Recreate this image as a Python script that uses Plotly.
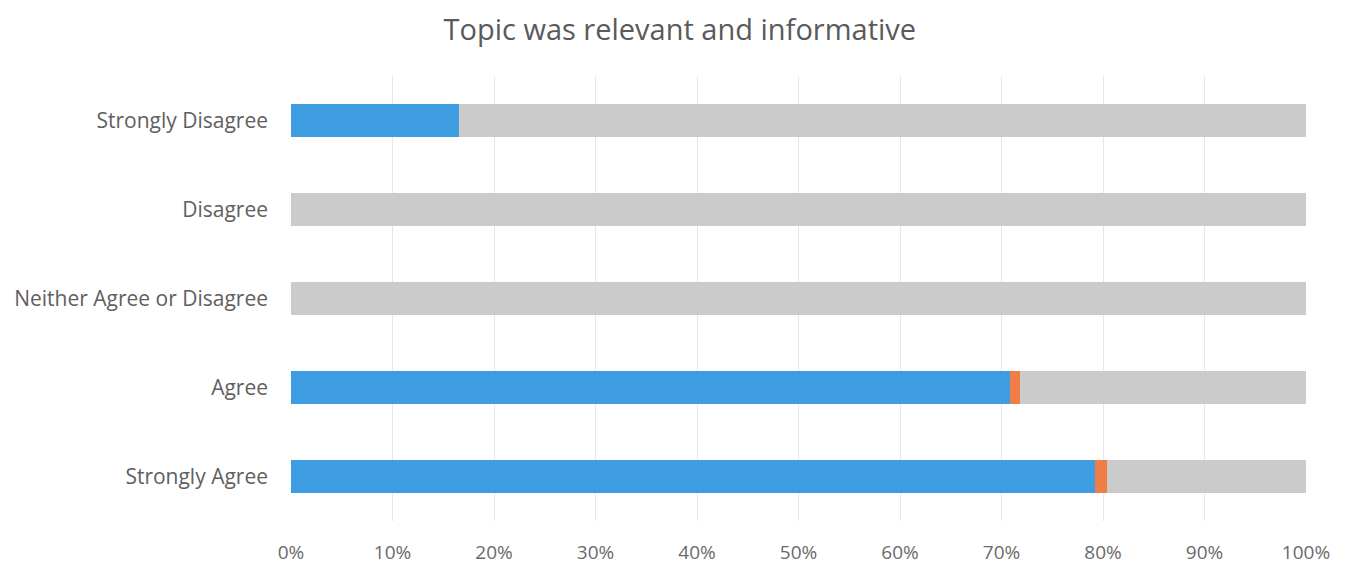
import plotly.graph_objects as go

categories = ["Strongly Disagree", "Disagree", "Neither Agree or Disagree", "Agree", "Strongly Agree"]
series_names = ["Yes", "Partly", "No"]
blue_vals = [16.6, 0, 0, 70.8, 79.2]
orange_vals = [0, 0, 0, 1.0, 1.2]
gray_vals = [100 - b - o for b, o in zip(blue_vals, orange_vals)]
x_ticks = [0, 10, 20, 30, 40, 50, 60, 70, 80, 90, 100]
x_tick_labels = [f"{t}%" for t in x_ticks]

colors = ["#3d9de0", "#ef7d45", "#cbcbcb"]
font_family = "Open Sans, Lato, sans-serif"

fig = go.Figure()
for name, vals, col in zip(series_names, [blue_vals, orange_vals, gray_vals], colors):
    fig.add_trace(go.Bar(
        y=categories, x=vals, name=name, orientation="h",
        marker=dict(color=col, line=dict(width=0)), width=0.38,
    ))

fig.update_layout(
    barmode="stack",
    width=1371, height=580,
    paper_bgcolor="white", plot_bgcolor="white",
    showlegend=False,
    margin=dict(l=283, r=73, t=68, b=67, autoexpand=False),
    title=dict(text="Topic was relevant and informative", x=0.49, xanchor="center",
               y=0.963, yanchor="middle",
               font=dict(family=font_family, size=29, color="#5a5a5a")),
    font=dict(family=font_family, color="#6a6a6a", size=19),
    xaxis=dict(range=[0, 100], tickvals=x_ticks, ticktext=x_tick_labels,
               showgrid=True, gridcolor="#e6e6e6", gridwidth=1, zeroline=False,
               showline=False, ticks="", ticklabelstandoff=18, automargin=False,
               tickfont=dict(size=19, color="#6a6a6a")),
    yaxis=dict(categoryorder="array", categoryarray=categories[::-1],
               showgrid=False, zeroline=False, showline=False, ticks="",
               ticklabelstandoff=22, automargin=False,
               tickfont=dict(size=21, color="#606060")),
)

fig.write_html("out.html")
